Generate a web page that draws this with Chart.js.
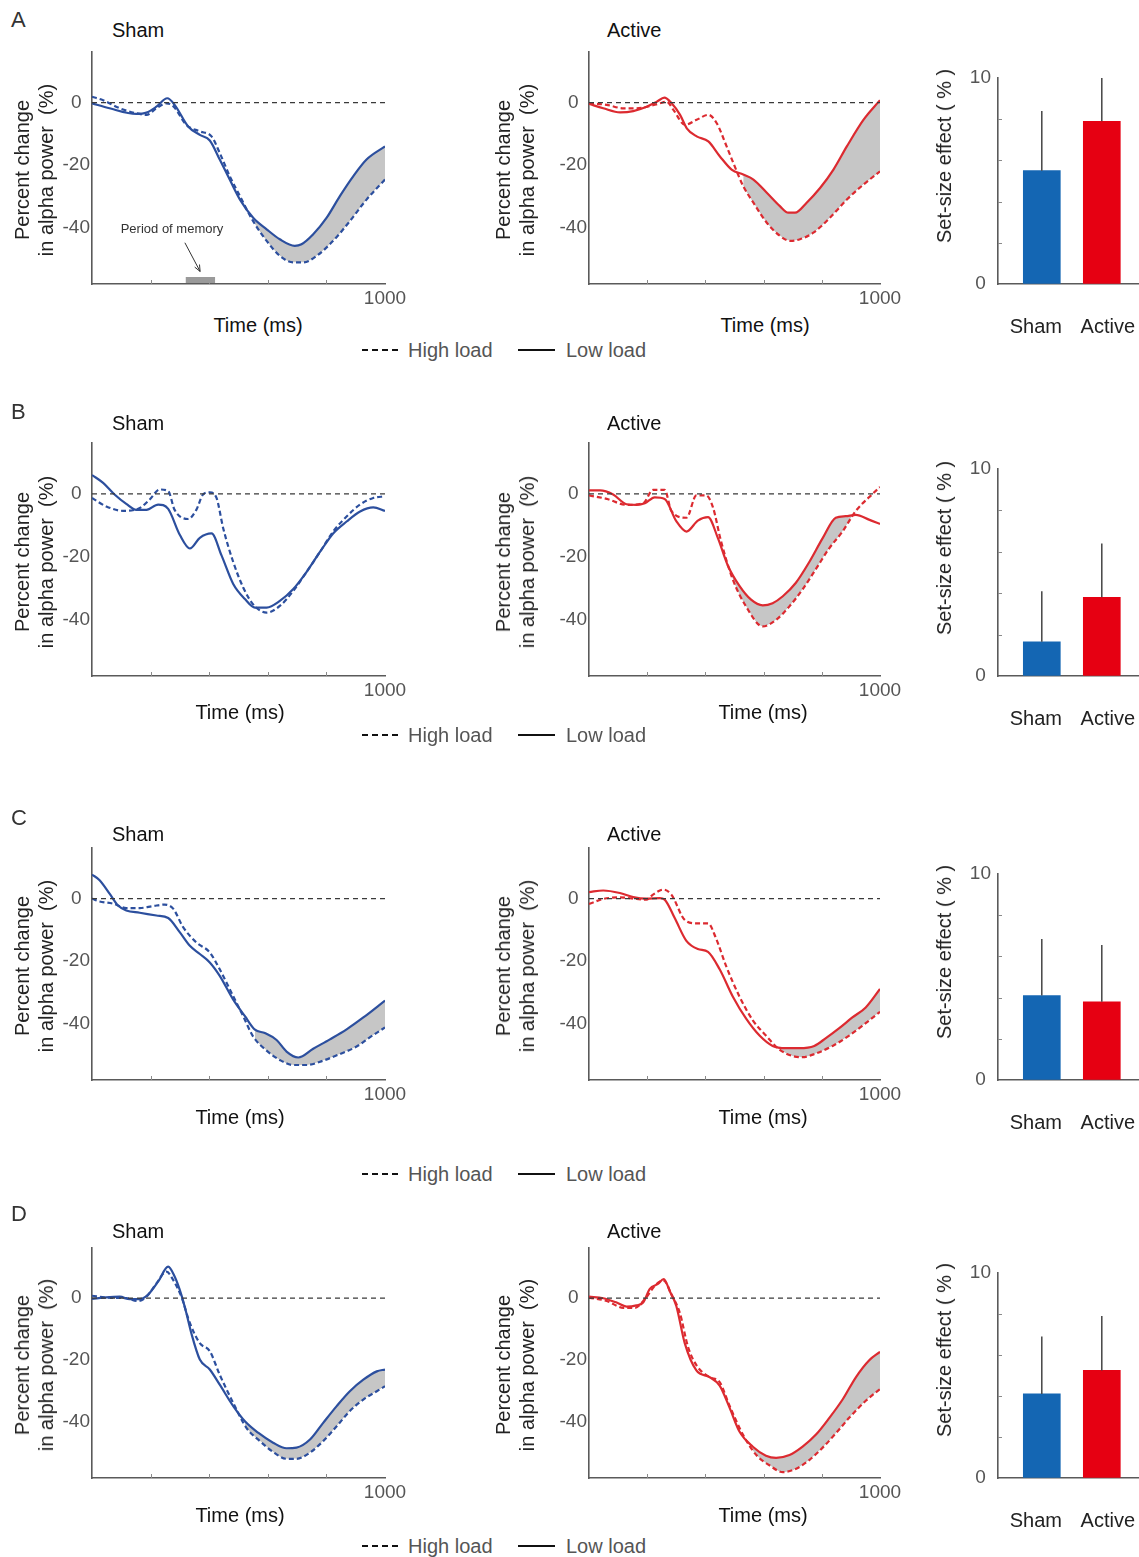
<!DOCTYPE html>
<html><head><meta charset="utf-8">
<script src="https://cdn.jsdelivr.net/npm/chart.js@4.4.1/dist/chart.umd.min.js"></script>
<style>
html,body{margin:0;padding:0;background:#fff;}
body{width:1139px;height:1557px;position:relative;overflow:hidden;font-family:"Liberation Sans",Arial,Helvetica,sans-serif;}
canvas{position:absolute;}
.t{position:absolute;white-space:pre;line-height:1;}
.v{position:absolute;white-space:pre;text-align:center;line-height:24px;}
svg{position:absolute;overflow:visible;}
</style></head><body>
<script>
// ---------------- DATA ----------------
const timeTicks = [0, 200, 400, 600, 800, 1000];
const timeLabels = ['', '', '', '', '', '1000'];
const pctTicks = [0, -20, -40];
const effTicks = [0, 2, 4, 6, 8, 10];
const effLabels = ['0', '', '', '', '', '10'];
const barCats = ['Sham', 'Active'];
const panelLetters = ['A', 'B', 'C', 'D'];
const condTitles = ['Sham', 'Active'];
const seriesNames = ['High load', 'Low load'];

// [time (ms), percent change]
const aShamHigh = [[0,1.9],[38,0.8],[95,-1.8],[151,-3.4],[186,-3.9],[220,-1.8],[254,-0.2],[277,-1.1],[322,-7.1],[368,-9.2],[408,-10.8],[436,-16.1],[470,-23.5],[505,-29.9],[550,-37.9],[596,-44.2],[641,-49.0],[687,-51.1],[721,-51.1],[767,-49.0],[823,-44.2],[880,-37.9],[937,-31.0],[1000,-24.6]];
const aShamLow  = [[0,-0.2],[60,-1.8],[151,-3.6],[186,-3.2],[220,-1.3],[257,1.4],[282,-0.7],[328,-7.6],[368,-10.3],[402,-12.1],[436,-18.2],[470,-24.6],[505,-31.0],[550,-36.8],[596,-40.5],[641,-43.7],[692,-45.8],[715,-45.3],[755,-42.1],[801,-36.8],[846,-29.9],[892,-23.5],[937,-18.2],[1000,-14.0]];
const aActHigh  = [[0,-0.2],[61,-0.7],[118,-1.8],[164,-1.8],[210,-1.1],[244,-0.2],[267,0.3],[290,-2.3],[330,-7.1],[370,-5.5],[410,-3.9],[439,-6.6],[473,-14.0],[496,-19.3],[530,-26.7],[565,-32.0],[611,-38.4],[656,-42.6],[691,-44.2],[725,-43.7],[771,-41.6],[828,-36.8],[886,-31.0],[943,-26.2],[1000,-22.0]];
const aActLow   = [[0,-0.4],[49,-1.8],[107,-3.1],[152,-2.7],[198,-1.3],[233,0.3],[259,1.6],[284,-0.2],[313,-3.9],[336,-8.2],[370,-10.8],[410,-12.4],[450,-17.2],[490,-21.4],[530,-23.0],[565,-24.6],[611,-28.8],[656,-33.1],[685,-35.2],[708,-35.2],[748,-32.0],[794,-27.3],[840,-21.4],[886,-14.0],[943,-5.5],[1000,0.8]];

const bShamHigh = [[0,-1.3],[49,-4.0],[106,-5.4],[163,-4.5],[197,-1.8],[231,1.4],[260,0.9],[282,-5.1],[328,-8.0],[356,-5.1],[379,-0.2],[402,0.5],[425,-1.3],[448,-11.0],[482,-21.7],[516,-29.8],[550,-35.2],[596,-37.8],[641,-35.7],[687,-30.9],[732,-24.9],[778,-18.5],[823,-12.0],[869,-7.2],[915,-3.4],[960,-1.3],[1000,-0.8]];
const bShamLow  = [[0,6.0],[38,3.5],[77,-0.2],[117,-3.2],[151,-5.1],[186,-5.1],[226,-3.4],[260,-4.8],[300,-13.1],[334,-17.4],[368,-14.0],[408,-12.6],[442,-19.6],[482,-28.7],[522,-33.5],[556,-36.2],[596,-36.2],[641,-34.1],[687,-30.3],[732,-24.9],[778,-18.5],[823,-12.6],[869,-8.8],[915,-5.6],[960,-4.3],[1000,-5.4]];
const bActHigh  = [[0,-0.5],[61,-1.6],[129,-3.5],[186,-3.0],[220,1.3],[260,1.3],[283,-5.4],[335,-7.6],[369,-0.5],[403,-0.5],[426,-4.3],[454,-15.2],[494,-27.2],[540,-35.9],[597,-42.2],[642,-40.2],[688,-35.9],[734,-30.4],[780,-23.9],[825,-17.4],[871,-12.0],[917,-5.4],[962,-1.1],[1000,2.2]];
const bActLow   = [[0,1.1],[38,1.1],[83,-0.2],[129,-3.3],[163,-3.5],[192,-3.0],[226,-1.1],[260,-1.6],[300,-8.7],[335,-12.0],[374,-8.5],[409,-7.4],[443,-14.1],[477,-22.8],[517,-29.3],[557,-33.7],[597,-35.5],[631,-34.8],[666,-32.6],[711,-28.3],[757,-21.7],[803,-14.1],[848,-7.6],[882,-7.1],[917,-6.7],[962,-8.2],[1000,-9.6]];

const cShamHigh = [[0,0.0],[26,-0.9],[72,-1.6],[117,-3.0],[163,-3.0],[208,-2.4],[248,-1.9],[277,-3.2],[311,-9.1],[356,-14.0],[402,-17.2],[436,-22.6],[482,-31.2],[516,-37.6],[550,-44.1],[596,-48.6],[641,-51.6],[687,-53.2],[733,-53.2],[789,-51.8],[846,-49.7],[903,-47.3],[949,-44.3],[1000,-41.2]];
const cShamLow  = [[0,7.7],[26,5.9],[60,1.6],[89,-2.2],[117,-3.8],[163,-4.5],[220,-5.4],[260,-6.2],[300,-10.8],[334,-15.1],[368,-17.7],[402,-20.4],[436,-24.7],[482,-32.3],[522,-37.6],[556,-41.9],[590,-43.0],[630,-45.2],[664,-48.9],[704,-50.8],[755,-48.0],[812,-45.0],[869,-41.8],[926,-38.0],[1000,-32.6]];
const cActHigh  = [[0,-1.7],[49,-0.1],[106,0.4],[163,-0.1],[197,-0.3],[220,1.3],[255,2.9],[283,1.3],[329,-6.8],[369,-7.9],[409,-7.9],[437,-12.8],[471,-21.5],[517,-31.3],[563,-38.9],[608,-43.8],[654,-48.2],[699,-50.3],[734,-50.7],[780,-49.5],[837,-47.1],[894,-43.8],[951,-39.8],[1000,-36.2]];
const cActLow   = [[0,2.1],[49,2.6],[106,1.8],[152,0.5],[197,0.0],[243,0.2],[260,-0.3],[295,-6.3],[334,-13.4],[374,-16.1],[409,-17.0],[449,-22.6],[494,-31.3],[540,-38.4],[586,-43.8],[631,-47.1],[677,-47.8],[723,-47.8],[774,-47.1],[814,-44.6],[860,-41.4],[905,-38.0],[951,-34.8],[1000,-28.9]];

const dShamHigh = [[0,0.8],[49,0.2],[117,0.0],[157,-0.9],[186,0.5],[220,4.8],[254,8.6],[277,5.9],[305,0.5],[334,-8.0],[368,-14.5],[402,-17.1],[436,-24.7],[482,-33.8],[527,-41.8],[573,-46.1],[618,-49.6],[664,-51.8],[698,-51.8],[744,-49.8],[789,-46.1],[835,-41.3],[880,-36.4],[926,-32.7],[972,-30.0],[1000,-28.4]];
const dShamLow  = [[0,-0.2],[49,0.3],[95,0.5],[129,-0.3],[163,-0.3],[191,1.1],[226,5.4],[260,10.2],[282,7.0],[305,1.1],[322,-4.8],[339,-11.3],[368,-19.8],[402,-23.0],[436,-27.9],[482,-34.8],[522,-39.7],[567,-43.4],[618,-46.6],[664,-48.4],[698,-48.2],[744,-45.6],[789,-40.2],[835,-34.8],[880,-30.0],[926,-26.3],[972,-23.6],[1000,-23.0]];
const dActHigh  = [[0,0.2],[61,-0.9],[118,-3.1],[158,-3.1],[192,-0.3],[232,4.6],[257,5.7],[283,1.3],[312,-4.7],[340,-15.6],[369,-21.6],[415,-25.5],[449,-27.1],[483,-34.7],[529,-44.0],[575,-50.6],[620,-53.9],[666,-56.1],[712,-55.0],[757,-52.2],[803,-48.2],[849,-43.5],[894,-38.6],[951,-33.1],[1000,-29.3]];
const dActLow   = [[0,0.5],[49,0.0],[95,-1.4],[129,-2.7],[163,-2.3],[186,-1.4],[209,3.0],[237,4.6],[257,6.2],[277,2.4],[300,-2.5],[329,-14.5],[369,-23.3],[415,-25.5],[449,-28.2],[483,-35.3],[517,-43.0],[563,-47.9],[608,-50.8],[643,-51.5],[689,-50.6],[734,-47.9],[780,-44.0],[826,-38.6],[872,-32.6],[917,-25.5],[963,-20.0],[1000,-17.3]];

// shaded (significant) window start, ms; null = none
const shadeStart = [[530, 500], [null, 470], [540, 600], [520, 520]];

// set-size effect (%) bars: means and upper error
const aBarMean = [5.5, 7.9];  const aBarErr = [2.9, 2.1];
const bBarMean = [1.65, 3.8]; const bBarErr = [2.45, 2.6];
const cBarMean = [4.1, 3.8];  const cBarErr = [2.75, 2.75];
const dBarMean = [4.1, 5.25]; const dBarErr = [2.8, 2.65];

const memoryPeriod = [320, 420];
const memoryArrow = [[317, -44.8], [369, -54.0]];

// ---------------- LAYOUT / STYLE ----------------
const FONT = '"Liberation Sans", Arial, Helvetica, sans-serif';
const BLUE = '#2c4f9e', RED = '#dc2a30';
const BAR_COLORS = ['#1466b3', '#e60012'];
const SHADE = '#c6c6c6';
const AXIS = '#5a5a5a';
const TICKC = '#555';
const barLabelPos = [0.9, 2.1];

const rows = [
  {letterY:20,  titleY:30,   plotTop:52,   plotBottom:284,  barTop:78,   timeY:325,  legendY:350,  timeShamX:258, timeActX:765},
  {letterY:412, titleY:423,  plotTop:443,  plotBottom:676,  barTop:469,  timeY:712,  legendY:735,  timeShamX:240, timeActX:763},
  {letterY:818, titleY:834,  plotTop:848,  plotBottom:1080, barTop:874,  timeY:1117, legendY:1174, timeShamX:240, timeActX:763},
  {letterY:1214,titleY:1231, plotTop:1248, plotBottom:1478, barTop:1273, timeY:1515, legendY:1546, timeShamX:240, timeActX:763}
];
const rowSeries = [
  [[aShamHigh, aShamLow], [aActHigh, aActLow], [aBarMean, aBarErr]],
  [[bShamHigh, bShamLow], [bActHigh, bActLow], [bBarMean, bBarErr]],
  [[cShamHigh, cShamLow], [cActHigh, cActLow], [cBarMean, cBarErr]],
  [[dShamHigh, dShamLow], [dActHigh, dActLow], [dBarMean, dBarErr]]
];

const body = document.body;
function addText(str, x, y, size, color, align, extra) {
  const d = document.createElement('div');
  d.className = 't';
  d.textContent = str;
  d.style.left = x + 'px'; d.style.top = y + 'px';
  d.style.fontSize = size + 'px'; d.style.color = color;
  d.style.transform = align === 'center' ? 'translate(-50%,-50%)' : 'translateY(-50%)';
  if (extra) Object.assign(d.style, extra);
  body.appendChild(d);
}
function addVText(lines, cx, cy, size, color) {
  const d = document.createElement('div');
  d.className = 'v';
  lines.forEach((l, i) => { if (i) d.appendChild(document.createElement('br')); d.appendChild(document.createTextNode(l)); });
  d.style.left = cx + 'px'; d.style.top = cy + 'px';
  d.style.fontSize = size + 'px'; d.style.color = color;
  d.style.transform = 'translate(-50%,-50%) rotate(-90deg)';
  body.appendChild(d);
}
function addLegendSample(x1, x2, y, dashed) {
  const ns = 'http://www.w3.org/2000/svg';
  const s = document.createElementNS(ns, 'svg');
  s.setAttribute('width', x2 - x1); s.setAttribute('height', 4);
  s.style.left = x1 + 'px'; s.style.top = (y - 2) + 'px';
  const l = document.createElementNS(ns, 'line');
  l.setAttribute('x1', 0); l.setAttribute('x2', x2 - x1); l.setAttribute('y1', 2); l.setAttribute('y2', 2);
  l.setAttribute('stroke', '#111'); l.setAttribute('stroke-width', 2);
  if (dashed) l.setAttribute('stroke-dasharray', '6 4');
  s.appendChild(l); body.appendChild(s);
}
function makeCanvas(left, top, w, h) {
  const c = document.createElement('canvas');
  c.width = w; c.height = h;
  c.style.left = left + 'px'; c.style.top = top + 'px';
  c.style.width = w + 'px'; c.style.height = h + 'px';
  body.appendChild(c);
  return c;
}
const pts = arr => arr.map(([x, y]) => ({x, y}));

function lineChart(row, geo, color, high, low, shadeFrom, withMemory) {
  const padTop = 10, xH = 30;
  const H = row.plotBottom - row.plotTop + padTop + xH;
  const cv = makeCanvas(geo.canvasLeft, row.plotTop - padTop, geo.canvasW, H);
  const lowPts = pts(low), highPts = pts(high);
  const datasets = [
    {data: [{x: timeTicks[0], y: 0}, {x: timeTicks[timeTicks.length - 1], y: 0}], borderColor: '#3a3a3a', borderWidth: 1.2, borderDash: [5, 4], pointRadius: 0, order: 0, fill: false},
    {label: seriesNames[0], data: highPts, borderColor: color, borderWidth: 2.2, borderDash: [5, 3], pointRadius: 0, order: 2, fill: false, cubicInterpolationMode: 'monotone'},
    {label: seriesNames[1], data: lowPts, borderColor: color, borderWidth: 2.2, pointRadius: 0, order: 1, fill: false, cubicInterpolationMode: 'monotone'}
  ];
  if (shadeFrom !== null) {
    datasets.push({data: lowPts.filter(p => p.x >= shadeFrom), borderWidth: 0, borderColor: 'rgba(0,0,0,0)', pointRadius: 0, order: 9,
      cubicInterpolationMode: 'monotone', fill: {target: 1, above: SHADE, below: 'rgba(0,0,0,0)'}});
  }
  const extras = {
    id: 'extras',
    afterDatasetsDraw(chart) {
      const ctx = chart.ctx, xs = chart.scales.x, ys = chart.scales.y;
      ctx.save();
      ctx.strokeStyle = '#8a8a8a'; ctx.lineWidth = 1;
      timeTicks.slice(1, -1).forEach(v => {
        const p = Math.round(xs.getPixelForValue(v)) + 0.5;
        ctx.beginPath(); ctx.moveTo(p, ys.bottom); ctx.lineTo(p, ys.bottom - 4); ctx.stroke();
      });
      if (withMemory) {
        const x0 = xs.getPixelForValue(memoryPeriod[0]), x1 = xs.getPixelForValue(memoryPeriod[1]);
        ctx.fillStyle = '#9a9a9a';
        ctx.fillRect(x0, ys.bottom - 7, x1 - x0, 6);
        const ax0 = xs.getPixelForValue(memoryArrow[0][0]), ay0 = ys.getPixelForValue(memoryArrow[0][1]);
        const ax1 = xs.getPixelForValue(memoryArrow[1][0]), ay1 = ys.getPixelForValue(memoryArrow[1][1]);
        ctx.strokeStyle = '#333'; ctx.lineWidth = 1;
        ctx.beginPath(); ctx.moveTo(ax0, ay0); ctx.lineTo(ax1, ay1); ctx.stroke();
        const ang = Math.atan2(ay1 - ay0, ax1 - ax0), hl = 7;
        ctx.beginPath();
        ctx.moveTo(ax1 - hl * Math.cos(ang - 0.4), ay1 - hl * Math.sin(ang - 0.4));
        ctx.lineTo(ax1, ay1);
        ctx.lineTo(ax1 - hl * Math.cos(ang + 0.4), ay1 - hl * Math.sin(ang + 0.4));
        ctx.stroke();
      }
      ctx.restore();
    }
  };
  new Chart(cv, {
    type: 'line',
    data: {datasets},
    plugins: [extras],
    options: {
      responsive: false, animation: false, devicePixelRatio: 1,
      layout: {autoPadding: false, padding: {top: padTop, right: geo.canvasW - (geo.axisRight - geo.canvasLeft), left: 0, bottom: 0}},
      plugins: {legend: {display: false}, tooltip: {enabled: false}},
      scales: {
        x: {type: 'linear', min: 0, max: 1000,
          afterBuildTicks: s => { s.ticks = timeTicks.map(v => ({value: v})); },
          afterFit: s => { s.height = xH; s.paddingLeft = 0; s.paddingRight = 0; },
          ticks: {autoSkip: false, maxRotation: 0, padding: 3, color: TICKC, font: {family: FONT, size: 19},
            callback: (v) => timeLabels[timeTicks.indexOf(v)] || ''},
          grid: {display: true, drawOnChartArea: false, drawTicks: false},
          border: {display: true, color: AXIS, width: 1.6}},
        y: {type: 'linear', min: -58, max: 16.2,
          afterBuildTicks: s => { s.ticks = pctTicks.map(v => ({value: v})); },
          afterFit: s => { s.width = geo.axisLeft - geo.canvasLeft; s.paddingTop = 0; s.paddingBottom = 0; },
          ticks: {padding: 2, crossAlign: 'center', color: TICKC, font: {family: FONT, size: 19}},
          grid: {display: true, drawOnChartArea: false, drawTicks: false},
          border: {display: true, color: AXIS, width: 1.6}}
      }
    }
  });
}

function barChart(row, means, errs) {
  const canvasLeft = 950, axisLeft = 998, canvasW = 189, padTop = 10, xH = 62;
  const H = row.plotBottom - row.barTop + padTop + xH;
  const cv = makeCanvas(canvasLeft, row.barTop - padTop, canvasW, H);
  const errPlugin = {
    id: 'errbars',
    afterDatasetsDraw(chart) {
      const ctx = chart.ctx, ys = chart.scales.y, xs = chart.scales.x;
      ctx.save();
      ctx.strokeStyle = '#444'; ctx.lineWidth = 1.5;
      chart.getDatasetMeta(0).data.forEach((el, i) => {
        const top = ys.getPixelForValue(means[i] + errs[i]);
        ctx.beginPath(); ctx.moveTo(el.x, el.y); ctx.lineTo(el.x, top); ctx.stroke();
      });
      ctx.strokeStyle = '#8a8a8a'; ctx.lineWidth = 1;
      effTicks.slice(1, -1).forEach(v => {
        const p = Math.round(ys.getPixelForValue(v)) + 0.5;
        ctx.beginPath(); ctx.moveTo(xs.left, p); ctx.lineTo(xs.left + 4, p); ctx.stroke();
      });
      ctx.restore();
    }
  };
  new Chart(cv, {
    type: 'bar',
    data: {datasets: [{data: means.map((m, i) => ({x: i + 1, y: m})), backgroundColor: BAR_COLORS, borderWidth: 0, barThickness: 37}]},
    plugins: [errPlugin],
    options: {
      responsive: false, animation: false, devicePixelRatio: 1,
      layout: {autoPadding: false, padding: {top: padTop, right: 0, left: 0, bottom: 0}},
      plugins: {legend: {display: false}, tooltip: {enabled: false}},
      scales: {
        x: {type: 'linear', min: 0.27, max: 2.62, offset: false,
          afterBuildTicks: s => { s.ticks = barLabelPos.map(v => ({value: v})); },
          afterFit: s => { s.height = xH; s.paddingLeft = 0; s.paddingRight = 0; },
          ticks: {autoSkip: false, maxRotation: 0, padding: 31, color: '#222', font: {family: FONT, size: 20},
            callback: (v, i) => barCats[i] || ''},
          grid: {display: true, drawOnChartArea: false, drawTicks: false, offset: false},
          border: {display: true, color: AXIS, width: 1.6}},
        y: {type: 'linear', min: 0, max: 10,
          afterBuildTicks: s => { s.ticks = effTicks.map(v => ({value: v})); },
          afterFit: s => { s.width = axisLeft - canvasLeft; s.paddingTop = 0; s.paddingBottom = 0; },
          ticks: {padding: 7, crossAlign: 'center', color: TICKC, font: {family: FONT, size: 19},
            callback: v => effLabels[effTicks.indexOf(v)] || ''},
          grid: {display: true, drawOnChartArea: false, drawTicks: false},
          border: {display: true, color: AXIS, width: 1.6}}
      }
    }
  });
}

const shamGeo = {canvasLeft: 0, axisLeft: 92, axisRight: 385, canvasW: 440};
const actGeo  = {canvasLeft: 470, axisLeft: 589, axisRight: 880, canvasW: 450};

rows.forEach((row, r) => {
  const [sham, act, bars] = rowSeries[r];
  lineChart(row, shamGeo, BLUE, sham[0], sham[1], shadeStart[r][0], r === 0);
  lineChart(row, actGeo, RED, act[0], act[1], shadeStart[r][1], false);
  barChart(row, bars[0], bars[1]);

  addText(panelLetters[r], 11, row.letterY, 22, '#333', 'left');
  addText(condTitles[0], 112, row.titleY, 20, '#111', 'left');
  addText(condTitles[1], 607, row.titleY, 20, '#111', 'left');
  const midY = (row.plotTop + row.plotBottom) / 2 + 2;
  addVText(['Percent change', 'in alpha power  (%)'], 34, midY, 20, '#222');
  addVText(['Percent change', 'in alpha power  (%)'], 515, midY, 20, '#222');
  addVText(['Set-size effect ( % )'], 944, row.plotBottom - 128, 20, '#222');
  addText('Time (ms)', row.timeShamX, row.timeY, 20, '#111', 'center');
  addText('Time (ms)', row.timeActX, row.timeY, 20, '#111', 'center');
  addLegendSample(362, 398, row.legendY, true);
  addText(seriesNames[0], 408, row.legendY, 20, '#555', 'left');
  addLegendSample(518, 555, row.legendY, false);
  addText(seriesNames[1], 566, row.legendY, 20, '#555', 'left');
});
addText('Period of memory', 172, 228, 13, '#333', 'center');
</script>
</body></html>
